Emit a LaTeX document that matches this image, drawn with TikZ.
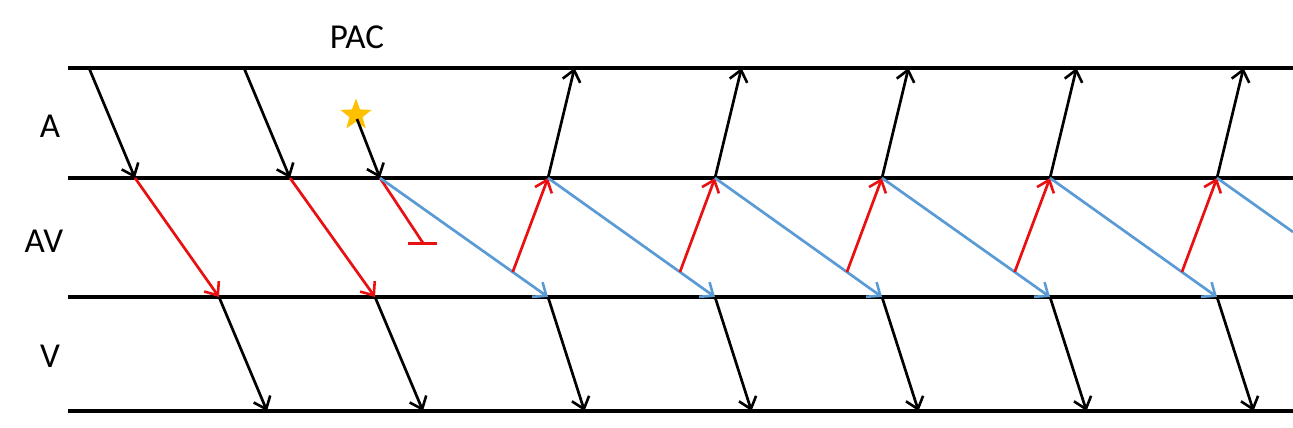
\documentclass[tikz,border=0pt]{standalone}
\usepackage{fontspec}
\setmainfont{Carlito}
\usetikzlibrary{arrows.meta,shapes.geometric,calc}
\definecolor{bl}{HTML}{5B9BD5}
\definecolor{rd}{HTML}{E81010}
\definecolor{gd}{HTML}{FFC000}
\begin{document}
\begin{tikzpicture}[x=1pt,y=-1pt,
  hline/.style={line width=3.4pt,black},
  barb/.style={-{Straight Barb[length=11pt,width=18pt,line width=2.6pt]}},
  blk/.style={line width=2.7pt,black},
  redl/.style={line width=2.7pt,rd},
  bluel/.style={line width=2.7pt,bl},
  lbl/.style={inner sep=0pt,font=\fontsize{35}{42}\selectfont}]
\useasboundingbox (0,0) rectangle (1293,428);
% horizontal lines
\coordinate (L1) at (68,68);  \coordinate (R1) at (1293,68);
\coordinate (L2) at (68,178); \coordinate (R2) at (1293,178);
\coordinate (L3) at (68,297); \coordinate (R3) at (1293,297);
\coordinate (L4) at (68,411); \coordinate (R4) at (1293,411);
\draw[hline] (L1) -- (R1);
\draw[hline] (L2) -- (R2);
\draw[hline] (L3) -- (R3);
\draw[hline] (L4) -- (R4);
% labels
\node[lbl] (tPAC) at (357,37) {PAC};
\node[lbl] (tA) at (50,126) {A};
\node[lbl] (tAV) at (44,241) {AV};
\node[lbl] (tV) at (50,356) {V};
% first two conducted beats
\foreach \a/\b/\c/\d [count=\i] in {89/135/219/267, 244/290/375/423}{
  \coordinate (s\i) at (\a,68);
  \coordinate (m\i) at (\b,178);
  \coordinate (n\i) at (\c,297);
  \coordinate (e\i) at (\d,411);
  \draw[blk,barb] (s\i) -- (m\i);
  \draw[redl,barb] (m\i) -- (n\i);
  \draw[blk,barb] (n\i) -- (e\i);
}
% PAC
\node[star,star points=5,star point ratio=2.4,minimum size=33pt,inner sep=0pt,fill=gd] (star) at (356,115) {};
\coordinate (p0) at (380,178);
\draw[blk,barb] (star.center) ++(1,4) -- (p0);
\coordinate (blk0) at (423,243);
\coordinate (bA) at (408,243);
\coordinate (bB) at (437,243);
\draw[redl] (p0) -- (blk0);
\draw[redl,line width=3pt] (bA) -- (bB);
% echo beats
\foreach \x/\px [count=\i] in {548/380, 715/548, 882/715, 1050/882, 1217/1050}{
  \coordinate (top\i) at (\x,178);
  \coordinate (src\i) at (\px,178);
  \coordinate (bot\i) at (\x,297);
  \coordinate (up\i) at ({\x+26.5},68);
  \coordinate (vd\i) at ({\x+36.5},411);
  \draw[bluel,barb] (src\i) -- (bot\i);
  \coordinate (r\i) at ($(src\i)!0.79!(bot\i)$);
  \draw[redl,barb] (r\i) -- (top\i);
  \draw[blk,barb] (top\i) -- (up\i);
  \draw[blk,barb] (bot\i) -- (vd\i);
}
\coordinate (last) at (1293,232);
\draw[bluel] (top5) -- (last);
\end{tikzpicture}
\end{document}
